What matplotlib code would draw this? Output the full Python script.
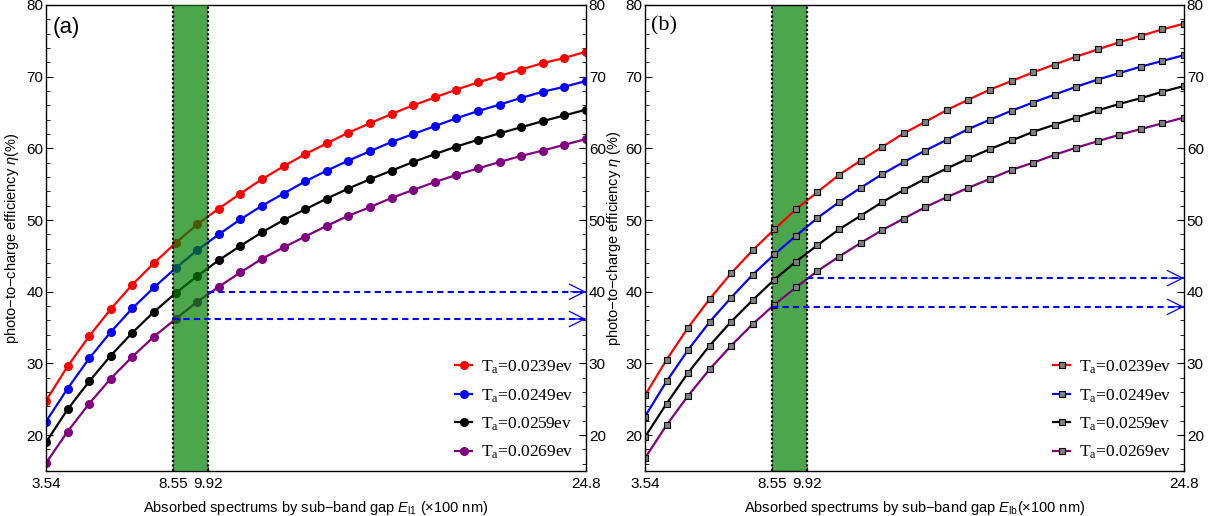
import numpy as np
import matplotlib
matplotlib.use("Agg")
import matplotlib.pyplot as plt
from matplotlib.ticker import MultipleLocator, FixedLocator

plt.rcParams['font.family'] = ['Liberation Sans', 'DejaVu Sans']
plt.rcParams['mathtext.fontset'] = 'custom'
plt.rcParams['mathtext.rm'] = 'Liberation Sans'
plt.rcParams['mathtext.it'] = 'Liberation Sans:italic'

# ---------------- data ----------------
x_start, x_end, n_pts = 3.54, 24.8, 26
x_vals = np.linspace(x_start, x_end, n_pts)
band = (8.55, 9.92)
xticks = [3.54, 8.55, 9.92, 24.8]
labels = ['T$_\\mathregular{a}$=0.0239ev', 'T$_\\mathregular{a}$=0.0249ev',
          'T$_\\mathregular{a}$=0.0259ev', 'T$_\\mathregular{a}$=0.0269ev']
colors = ['red', 'blue', 'black', 'purple']

a_red = [24.8, 29.6, 33.8, 37.6, 41.0, 44.0, 46.8, 49.4, 51.6, 53.7, 55.7, 57.5, 59.2,
         60.7, 62.2, 63.5, 64.8, 66.0, 67.1, 68.2, 69.2, 70.1, 71.0, 71.9, 72.6, 73.5]
a_blue = [21.9, 26.5, 30.7, 34.4, 37.7, 40.6, 43.3, 45.8, 48.0, 50.1, 52.0, 53.7, 55.4,
          56.9, 58.3, 59.6, 60.9, 62.0, 63.1, 64.2, 65.2, 66.1, 67.05, 67.9, 68.6, 69.4]
a_black = [19.0, 23.6, 27.5, 31.1, 34.3, 37.2, 39.8, 42.2, 44.4, 46.4, 48.3, 50.0, 51.5,
           53.0, 54.4, 55.7, 56.9, 58.1, 59.2, 60.25, 61.2, 62.1, 62.95, 63.8, 64.6, 65.4]
a_purple = [16.1, 20.5, 24.4, 27.9, 30.95, 33.75, 36.2, 38.6, 40.7, 42.7, 44.6, 46.2, 47.7,
            49.2, 50.6, 51.8, 53.1, 54.2, 55.3, 56.3, 57.2, 58.1, 58.95, 59.7, 60.5, 61.3]

b_red = [25.55, 30.5, 35.0, 39.0, 42.6, 45.8, 48.7, 51.5, 53.9, 56.3, 58.3, 60.2, 62.1,
         63.7, 65.35, 66.8, 68.2, 69.4, 70.6, 71.7, 72.8, 73.8, 74.8, 75.7, 76.6, 77.4]
b_blue = [22.6, 27.5, 31.9, 35.8, 39.2, 42.4, 45.2, 47.8, 50.3, 52.5, 54.5, 56.4, 58.1,
          59.7, 61.2, 62.7, 64.0, 65.25, 66.4, 67.5, 68.6, 69.6, 70.5, 71.4, 72.2, 73.0]
b_black = [19.75, 24.4, 28.7, 32.5, 35.85, 38.85, 41.7, 44.2, 46.5, 48.7, 50.6, 52.5, 54.2,
           55.75, 57.2, 58.6, 59.9, 61.1, 62.3, 63.3, 64.3, 65.3, 66.2, 67.0, 67.9, 68.7]
b_purple = [16.8, 21.4, 25.5, 29.2, 32.5, 35.5, 38.2, 40.6, 42.9, 44.9, 46.8, 48.6, 50.2,
            51.8, 53.2, 54.5, 55.75, 57.0, 58.0, 59.1, 60.1, 61.0, 61.9, 62.7, 63.5, 64.3]

a_series = [a_red, a_blue, a_black, a_purple]
b_series = [b_red, b_blue, b_black, b_purple]

# dashed guide lines: (start x, y level)
a_guides = [(9.92, 40.0), (8.55, 36.2)]
b_guides = [(9.92, 41.9), (8.55, 37.9)]

# ---------------- figure ----------------
W, H = 1215, 516
fig = plt.figure(figsize=(W / 100, H / 100), dpi=100)
axa = fig.add_axes([46 / W, 1 - 471 / H, 540 / W, 466 / H])
axb = fig.add_axes([645 / W, 1 - 471 / H, 539 / W, 466 / H])


def style_axis(ax, sub):
    ax.set_xlim(x_start, x_end)
    ax.set_ylim(15, 80)
    ax.xaxis.set_major_locator(FixedLocator(xticks))
    ax.set_xticklabels(['3.54', '8.55', '9.92', '24.8'])
    ax.yaxis.set_major_locator(MultipleLocator(10))
    ax.yaxis.set_minor_locator(MultipleLocator(2))
    ax.tick_params(axis='y', which='both', direction='in', left=True, right=True,
                   labelleft=True, labelright=True, labelsize=11, pad=2)
    ax.tick_params(axis='y', which='major', length=5, width=0.8)
    ax.tick_params(axis='y', which='minor', length=3, width=0.6)
    ax.tick_params(axis='x', which='both', direction='in', length=3, top=False,
                   labelsize=11, pad=4)
    for s in ax.spines.values():
        s.set_linewidth(1.0)
    ax.set_xlabel('Absorbed spectrums by sub\u2212band gap ' + sub, fontsize=10.5, labelpad=6)


def guides(ax, glist):
    for x0, yv in glist:
        ax.plot([x0, x_end], [yv, yv], color='blue', lw=1.5, ls=(0, (3, 2)), zorder=4)
        ax.annotate('', xy=(x_end, yv), xytext=(x_end - 0.6, yv),
                    arrowprops=dict(arrowstyle='->,head_length=1.1,head_width=0.55',
                                    color='blue', lw=0.9, shrinkA=0, shrinkB=0),
                    zorder=5)


def add_legend(ax):
    ax.legend(loc='lower right', frameon=False, handlelength=1.0, handletextpad=0.5,
              labelspacing=0.62, borderaxespad=0.15, bbox_to_anchor=(0.995, 0.0),
              prop={'family': 'Liberation Serif', 'size': 12.5})


# ----- panel (a) -----
for ys, c, lab in zip(a_series, colors, labels):
    axa.plot(x_vals, ys, color=c, lw=1.6, marker='o', ms=5.5, label=lab, zorder=2)
axa.axvspan(band[0], band[1], color='green', alpha=0.7, lw=0, zorder=3)
for bx in band:
    axa.axvline(bx, color='black', ls=(0, (1, 1)), lw=1.6, zorder=4)
guides(axa, a_guides)
style_axis(axa, '$\\it{E}_{\\rm l1}$ (\u00d7100 nm)')
axa.set_ylabel('photo\u2212to\u2212charge efficiency $\\it{\\eta}$(%)', fontsize=10.5, labelpad=4)
axa.text(0.012, 0.975, '(a)', transform=axa.transAxes, fontsize=16, va='top', ha='left')
add_legend(axa)

# ----- panel (b) -----
axb.axvspan(band[0], band[1], color='green', alpha=0.7, lw=0, zorder=1)
for ys, c, lab in zip(b_series, colors, labels):
    axb.plot(x_vals, ys, color=c, lw=1.6, marker='s', ms=4.8, mfc='#808080', mec='black',
             mew=0.8, label=lab, zorder=2)
for bx in band:
    axb.axvline(bx, color='black', ls=(0, (1, 1)), lw=1.6, zorder=4)
guides(axb, b_guides)
style_axis(axb, '$\\it{E}_{\\rm lb}$(\u00d7100 nm)')
axb.set_ylabel('photo\u2212to\u2212charge efficiency $\\it{\\eta}$ (%)', fontsize=10.5, labelpad=1.5)
axb.text(0.012, 0.975, '(b)', transform=axb.transAxes, fontsize=16, va='top', ha='left',
         family='Liberation Serif')
add_legend(axb)

fig.savefig('out.png', dpi=100)
